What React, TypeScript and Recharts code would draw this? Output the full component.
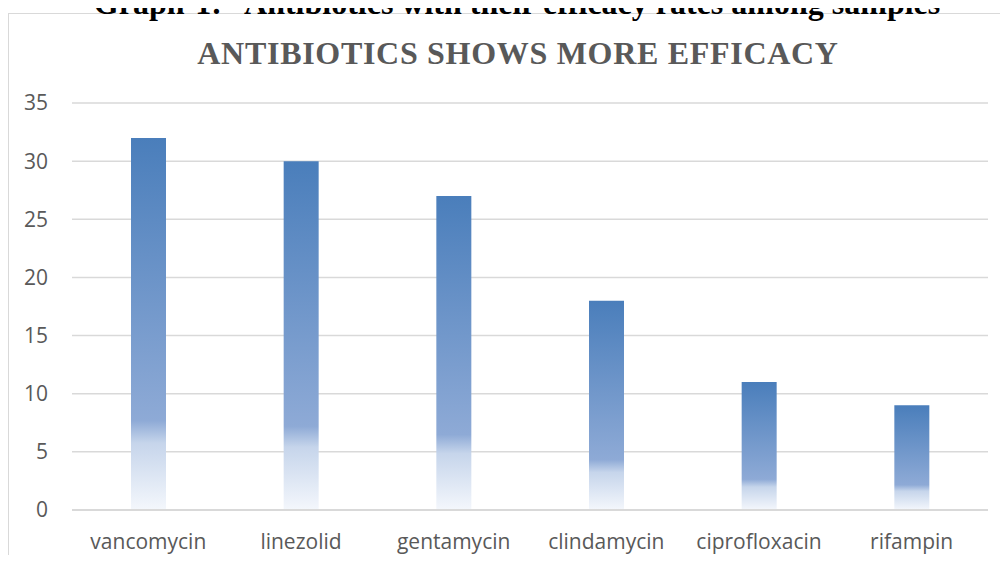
import { Bar, BarChart, CartesianGrid, XAxis, YAxis } from "recharts";

const categories = [
  "vancomycin",
  "linezolid",
  "gentamycin",
  "clindamycin",
  "ciprofloxacin",
  "rifampin",
];
const efficacy = [32, 30, 27, 18, 11, 9];
const yTicks = [0, 5, 10, 15, 20, 25, 30, 35];

const heading = "Graph-1:\u00a0\u00a0 Antibiotics with their efficacy rates among samples";
const chartTitle = "ANTIBIOTICS SHOWS MORE EFFICACY";

const data = categories.map((name, i) => ({ name, value: efficacy[i] }));

const tickStyle = { fill: "#595959", fontSize: 21, fontFamily: "'Open Sans', sans-serif" };

export default function App() {
  return (
    <div style={{ position: "relative", width: 1008, height: 563, margin: -8, overflow: "hidden", background: "#fff" }}>
      <svg width={0} height={0} style={{ position: "absolute" }}>
        <defs>
          <linearGradient id="barFade" x1="0" y1="0" x2="0" y2="1">
            <stop offset="0%" stopColor="#4a7ebb" />
            <stop offset="76%" stopColor="#8eaad6" />
            <stop offset="82%" stopColor="#c6d5eb" />
            <stop offset="100%" stopColor="#f4f7fc" />
          </linearGradient>
        </defs>
      </svg>

      <div
        style={{
          position: "absolute",
          left: 8,
          top: 13,
          width: 1100,
          height: 600,
          borderLeft: "1.5px solid #d9d9d9",
          borderTop: "1.5px solid #d9d9d9",
        }}
      />

      <div
        style={{
          position: "absolute",
          left: 27,
          width: 980,
          top: -15,
          textAlign: "center",
          fontFamily: "'Liberation Serif', serif",
          fontWeight: "bold",
          fontSize: 32,
          color: "#000",
          whiteSpace: "pre",
        }}
      >
        {heading}
      </div>

      <div
        style={{
          position: "absolute",
          left: 28,
          width: 980,
          top: 35,
          textAlign: "center",
          fontFamily: "'Liberation Serif', serif",
          fontWeight: "bold",
          fontSize: 32,
          letterSpacing: 0.7,
          color: "#595959",
          whiteSpace: "pre",
        }}
      >
        {chartTitle}
      </div>

      <div style={{ position: "absolute", left: 0, top: 0 }}>
        <BarChart
          width={1008}
          height={563}
          data={data}
          margin={{ top: 103, right: 20, bottom: 23, left: 0 }}
          barSize={35}
        >
          <CartesianGrid vertical={false} stroke="#d9d9d9" strokeWidth={1.5} />
          <XAxis
            dataKey="name"
            axisLine={{ stroke: "#d9d9d9", strokeWidth: 2 }}
            tickLine={false}
            tickSize={0}
            tickMargin={24}
            height={30}
            interval={0}
            tick={tickStyle}
          />
          <YAxis
            domain={[0, 35]}
            ticks={yTicks}
            axisLine={false}
            tickLine={false}
            tickSize={0}
            tickMargin={24}
            width={72}
            tick={tickStyle}
          />
          <Bar dataKey="value" fill="url(#barFade)" isAnimationActive={false} />
        </BarChart>
      </div>
    </div>
  );
}
